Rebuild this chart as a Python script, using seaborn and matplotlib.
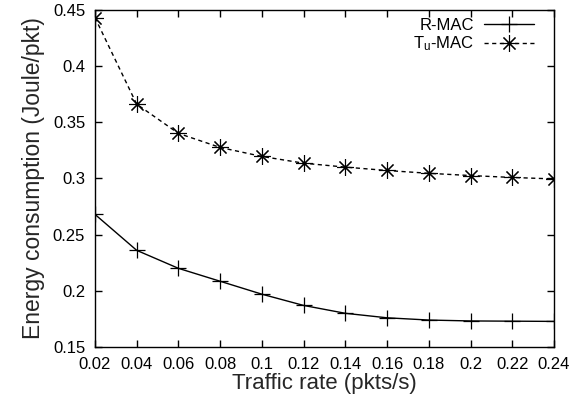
import numpy as np
import pandas as pd
import matplotlib
matplotlib.use("Agg")
import matplotlib.pyplot as plt
from matplotlib.ticker import FuncFormatter
import seaborn as sns

# valores
traffic_rate = [0.02, 0.04, 0.06, 0.08, 0.10, 0.12, 0.14, 0.16, 0.18, 0.20, 0.22, 0.24]
rmac_energy = [0.268, 0.236, 0.220, 0.2085, 0.197, 0.187, 0.180, 0.176, 0.174, 0.1732, 0.173, 0.1728]
tumac_energy = [0.443, 0.366, 0.340, 0.3275, 0.3195, 0.3135, 0.310, 0.307, 0.3045, 0.3025, 0.3008, 0.2995]
x_ticks = [0.02, 0.04, 0.06, 0.08, 0.1, 0.12, 0.14, 0.16, 0.18, 0.2, 0.22, 0.24]
y_ticks = [0.15, 0.2, 0.25, 0.3, 0.35, 0.4, 0.45]

sns.set_style("ticks")
plt.rcParams['font.family'] = ['Liberation Sans', 'DejaVu Sans']
plt.rcParams['mathtext.default'] = 'regular'

fig = plt.figure(figsize=(5.72, 4.04), dpi=100)
ax = fig.add_axes([0.166, 0.141, 0.8025, 0.835])

df_r = pd.DataFrame({"rate": traffic_rate, "energy": rmac_energy})
df_t = pd.DataFrame({"rate": traffic_rate, "energy": tumac_energy})

sns.lineplot(data=df_r, x="rate", y="energy", ax=ax, color="black", lw=1.0,
             marker="+", markersize=11, markeredgewidth=0.9,
             markeredgecolor="black", label="R-MAC")
sns.lineplot(data=df_t, x="rate", y="energy", ax=ax, color="black", lw=1.0,
             marker=(8, 2, 0), markersize=12, markeredgewidth=0.8,
             markeredgecolor="black", label=r"T$_{u}$-MAC")
ax.lines[1].set_linestyle((0, (3, 2.5)))

ax.set_xlim(0.02, 0.24)
ax.set_ylim(0.15, 0.45)
ax.set_xticks(x_ticks)
ax.set_yticks(y_ticks)
fmt = FuncFormatter(lambda v, p: "%g" % round(v, 3))
ax.xaxis.set_major_formatter(fmt)
ax.yaxis.set_major_formatter(fmt)
ax.tick_params(direction="in", length=5, width=1, top=True, right=True,
               labelsize=12, pad=7, colors="black")

for s in ax.spines.values():
    s.set_visible(True)
    s.set_linewidth(1.0)
    s.set_color("black")

ax.set_xlabel("Traffic rate (pkts/s)", fontsize=16, labelpad=1)
ax.set_ylabel("Energy consumption (Joule/pkt)", fontsize=16.5, labelpad=6)

leg = ax.legend(loc="upper right", frameon=False, markerfirst=False,
                fontsize=12, handlelength=3.0, handletextpad=0.6,
                labelspacing=0.1, borderaxespad=0.1,
                bbox_to_anchor=(0.975, 1.0))
for t in leg.get_texts():
    t.set_color("black")

plt.savefig("out.png", dpi=100)
